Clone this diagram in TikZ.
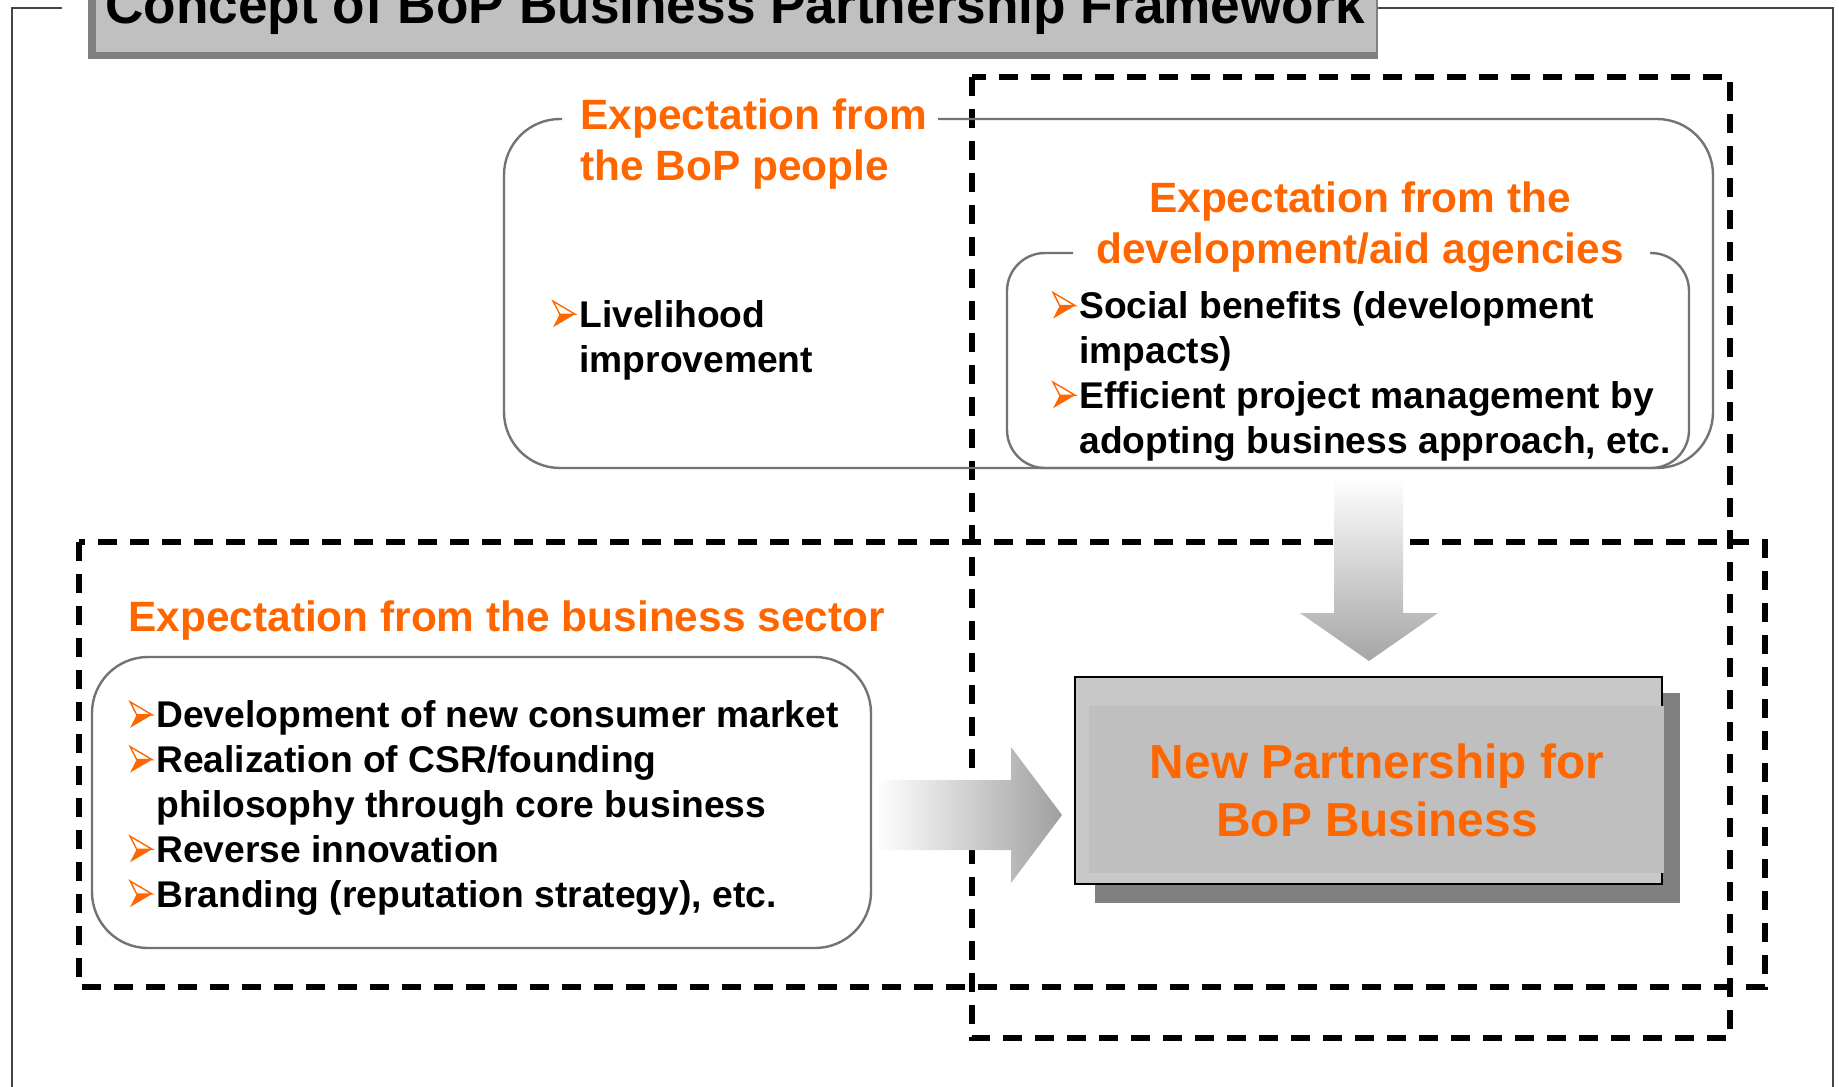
\documentclass[tikz,border=0pt]{standalone}
\usepackage{fontspec}
\setmainfont{Liberation Sans}
\usepackage{tikz}
\usetikzlibrary{positioning}
\definecolor{boporange}{RGB}{255,102,0}
\definecolor{titlegray}{RGB}{192,192,192}
\definecolor{boxgray}{RGB}{200,200,200}
\definecolor{innergray}{RGB}{191,191,191}
\definecolor{shadowgray}{RGB}{128,128,128}
\definecolor{framegray}{RGB}{70,70,70}

\newcommand{\bul}{\makebox[13.5pt][l]{\tikz[x=11pt,y=13pt,baseline=0pt,line width=0.7pt,line join=miter]{\fill[boporange] (0,0) -- (1,0.5) -- (0.3,0.5) -- cycle; \draw[boporange] (0,1) -- (1,0.5) -- (0.3,0.5) -- cycle;}}}
\newcommand{\ind}{\hspace*{13.5pt}}
\newcommand{\itemfont}{\fontsize{18.6pt}{22.4pt}\selectfont\bfseries}
\newcommand{\headfont}{\fontsize{21.2pt}{25.5pt}\selectfont\bfseries}

\tikzset{
	list/.style={anchor=base west, align=left, inner sep=0pt, font=\itemfont},
	head/.style={anchor=base west, align=left, inner sep=0pt, font=\headfont, text=boporange},
	dashbox/.style={line width=3pt, dash pattern=on 9.5pt off 6.5pt},
	roundbox/.style={draw=black!55, line width=1.2pt, rounded corners=28pt},
}

\begin{document}
\begin{tikzpicture}[x=0.5pt, y=-0.5pt]
	\useasboundingbox (0,0) rectangle (1839,1086);
	\clip (0,0) rectangle (1839,1086);

	\draw[framegray, line width=1pt] (62,8) -- (12,8) -- (12,1090);
	\draw[framegray, line width=1pt] (1378,8) -- (1833,8) -- (1833,1090);

	\fill[shadowgray] (88,-10) rectangle (1378,59);
	\draw[fill=titlegray, draw=gray] (95,-10) rectangle (1376,52);
	\node[anchor=base west, inner sep=0pt, font=\fontsize{26.6pt}{32pt}\selectfont\bfseries] (title) at (105,24) {Concept of BoP Business Partnership Framework};

	\draw[dashbox] (972,77) rectangle (1730,1038);
	\draw[dashbox] (79,542) rectangle (1765,987);

	\draw[roundbox] (938,119) -| (1713,468) -| (504,119) -- (562,119);
	\draw[roundbox, rounded corners=19pt] (1650,253) -| (1689,468) -| (1007,253) -- (1073,253);
	\draw[roundbox] (92,657) rectangle (871,948);

	% multi-line nodes sit on their last baseline
	\node[head] (boptitle) at (580,180) {Expectation from\\the BoP people};
	\node[list] (boplist) at (552,372) {\bul Livelihood\\\ind improvement};

	\node[head, anchor=base, align=center] (aidtitle) at (1360,263) {Expectation from the\\development/aid agencies};
	\node[list] (aidlist) at (1052,453) {\bul Social benefits (development\\\ind impacts)\\\bul Efficient project management by\\\ind adopting business approach, etc.};

	\node[head] (biztitle) at (128,631) {Expectation from the business sector};
	\node[list] (bizlist) at (129,907) {\bul Development of new consumer market\\\bul Realization of CSR/founding\\\ind philosophy through core business\\\bul Reverse innovation\\\bul Branding (reputation strategy), etc.};

	\fill[shadowgray] (1095,693) rectangle (1680,903);
	\draw[fill=boxgray, line width=1pt] (1075,677) rectangle (1662,884);
	\fill[innergray] (1089,706) rectangle (1664,873);
	\node[anchor=base, align=center, inner sep=0pt, text=boporange, font=\fontsize{23.9pt}{29pt}\selectfont\bfseries] (newpart) at (1377,836) {New Partnership for\\BoP Business};

	\shade[top color=white, bottom color=gray!70] (1334,477) -- (1403,477) -- (1403,613) -- (1438,613) -- (1369,661) -- (1300,613) -- (1334,613) -- cycle;
	\shade[left color=white, right color=gray!75] (876,780) -- (1011,780) -- (1011,747) -- (1062,815) -- (1011,883) -- (1011,850) -- (876,850) -- cycle;
\end{tikzpicture}
\end{document}
